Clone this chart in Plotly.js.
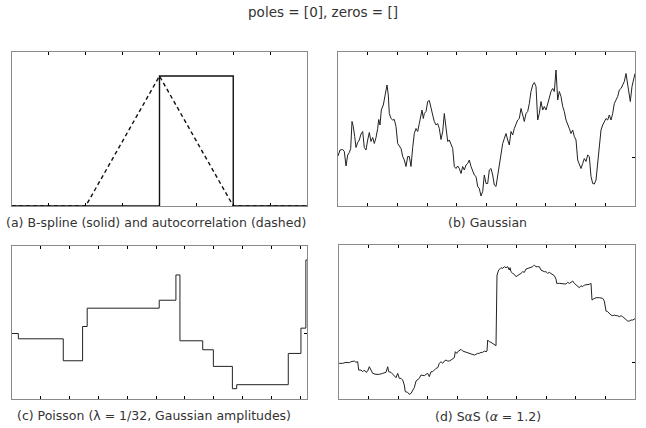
<!DOCTYPE html>
<html>
<head>
<meta charset="utf-8">
<script src="https://cdn.plot.ly/plotly-3.0.1.min.js"></script>
<style>html,body{margin:0;padding:0;background:#fff;}#chart{width:646px;height:428px;}</style>
</head>
<body>
<div id="chart"></div>
<script>
// (a) B-spline and autocorrelation
var aBoxX = [-2, 0, 0, 1, 1, 2];
var aBoxY = [0, 0, 1, 1, 0, 0];
var aTriX = [-2, -1, 0, 1, 2];
var aTriY = [0, 0, 1, 0, 0];

// (b) Gaussian
var bT = [0,2,4.7,6.3,8,9.7,11.3,12.7,14,15.3,16.7,18,19.7,21.3,23,24.7,26.3,28,29.7,31.3,33,34.7,36.3,38,39.7,40.7,42,43.3,45.3,47,49,50.3,51.3,53,54.7,56.3,58,59.7,61.3,63,64.7,66.3,68,69.7,71.3,73,74.7,76.3,78,79.7,81.3,83,84,85.3,86.3,88,89.7,91.3,93,94.7,96.3,98,99.7,101.3,103,104.7,106.3,108,109.7,111.3,113,114.7,116.3,118,119.7,121.3,123,124.7,126.3,128,129.7,131.3,133,134.7,136.3,138,139.7,141.3,143,144.7,146.3,148,
149.7,151.3,153,154.7,156.3,158,159.7,161.3,163,164.7,166.3,168,169.7,171.3,173,174.7,176.3,178,179.7,181.3,183,184.7,186.3,188,189.7,191.3,193,194.7,196.3,198,199.7,201.3,203,204.7,206.3,208,209.7,211.3,213,214.7,216.3,218,219.7,221.3,223,224.7,226.3,228,229.7,231.3,233,234.7,236.3,238,239.7,241.3,243,244.7,246.3,248,249.7,251.3,253,254.7,256.3,258,259.7,261.3,263,264.7,266.3,268,269.7,271.3,273,274.7,276.3,278,279.7,281.3,283,284.7,286.3,288,289.7,291.3,292.3,294,296.3,297];
var bV = [0.02,0.14,0.15,0.11,-0.18,0.04,0.09,0.17,0.71,0.61,0.41,0.19,0.29,0.34,0.46,0.51,0.19,0.14,0.34,0.49,0.31,0.39,0.27,0.39,0.57,0.75,0.64,0.94,1.04,1.27,1.44,1.24,0.87,0.77,0.74,0.75,0.61,0.27,0.21,0.17,0.01,-0.06,-0.19,0.01,0.01,-0.19,0.19,0.47,0.57,0.51,0.67,0.81,0.94,0.77,0.87,0.91,1.11,1.13,1.01,0.84,0.71,0.64,0.67,0.57,0.35,0.51,0.87,0.64,0.31,0.34,0.27,0.17,-0.19,-0.23,-0.18,-0.23,-0.33,-0.19,-0.26,-0.16,-0.13,-0.06,-0.19,-0.26,-0.36,-0.39,-0.59,-0.63,-0.78,-0.69,-0.36,-0.53,
-0.53,-0.26,-0.23,-0.36,-0.56,-0.59,-0.36,-0.19,0.07,0.27,0.37,0.47,0.34,0.24,0.51,0.44,0.57,0.64,0.74,0.77,0.97,0.84,0.71,0.87,0.91,1.07,1.31,1.44,1.49,1.41,0.74,0.87,1.11,0.94,1.01,0.94,1.07,1.21,1.31,1.37,1.31,1.74,1.14,1.31,1.21,1.01,0.91,0.74,0.67,0.57,0.47,0.54,0.41,0.34,-0.06,-0.16,-0.23,-0.13,-0.03,-0.09,0.04,0.01,-0.39,-0.53,-0.54,-0.46,-0.06,0.27,0.54,0.64,0.71,0.77,0.74,0.84,0.74,0.87,1.07,1.14,1.21,1.34,1.37,1.44,1.51,1.67,1.47,1.24,1.11,1.41,1.61,1.67];

// (c) Poisson (piecewise constant)
var cT = [0, 22, 178, 245, 261, 511, 569, 583, 662, 699, 765, 780, 959, 1003, 1020, 1024];
var cV = [0.01, -0.15, -0.81, 0.22, 0.77, 1.01, 1.77, -0.21, -0.48, -0.98, -1.65, -1.53, -0.59, 0.17, 2.22, 2.22];

// (d) SaS
var dT = [0,0.3,3.7,7,10.3,12,15.3,17,18.7,19.7,22,23.7,25.3,27,28.7,30.3,32,33.7,37,40.3,43.7,47,48.7,49.7,52,55.3,57,58.7,60.3,62,63.7,65.3,66.3,68.7,70.3,72,73.7,75.3,77,78.7,80.3,82,83.7,85.3,87,88.7,90.3,92,93.7,95.3,97,98.7,100.3,102,103.7,105.3,107,108.7,110.3,112,113.7,115.3,116.3,117.7,118.7,120.3,122,123.7,125.3,127,128.7,130.3,132,133.7,135.3,137,138.7,140.3,142,143.7,145.3,147,148,
148.7,150.3,152,153.7,155.3,157,158,159.7,162,163.7,165.3,167,168.7,170.3,171,172,173.7,175.3,177,178.7,180.3,182,183.7,185.3,187,188.7,190.3,192,193.7,195.3,197,198.7,200.3,202,203.7,205.3,207,208.7,210.3,212,213.7,215.3,217,217.7,220.3,223.7,227,228.7,230.3,232,233.7,235.3,237,238.7,240.3,242,243.7,245.3,247,248.7,250.3,252,253,254.3,257,260.3,263.7,265.3,267,268.7,270.3,272,273.7,275.3,277,278.7,280.3,282,283.7,285.3,287,288.7,290.3,292,293.7,294.7,296];
var dV = [-0.01,-0.013,-0.013,0.007,0,0.02,0.033,0.007,0.02,-0.147,-0.147,-0.18,-0.147,-0.193,-0.167,-0.08,-0.147,-0.213,-0.233,-0.233,-0.213,-0.193,-0.08,-0.18,-0.193,-0.28,-0.3,-0.213,-0.313,-0.313,-0.347,-0.447,-0.58,-0.593,-0.633,-0.613,-0.547,-0.5,-0.367,-0.347,-0.313,-0.247,-0.247,-0.26,-0.233,-0.213,-0.28,-0.18,-0.18,-0.147,-0.113,-0.1,-0.013,0.02,-0.013,0.033,0.053,0.033,0.033,0.053,0.073,0.1,0.22,0.187,0.22,0.253,0.267,0.233,0.22,0.207,0.207,0.187,0.167,0.153,0.153,0.167,0.187,0.187,0.207,0.207,0.233,0.22,0.233,
0.453,0.42,0.407,0.387,0.367,0.34,1.753,1.853,1.9,1.887,1.92,1.9,1.92,1.853,1.9,1.82,1.787,1.767,1.72,1.74,1.767,1.787,1.82,1.807,1.873,1.887,1.9,1.92,1.92,1.953,1.92,1.92,1.92,1.853,1.833,1.82,1.82,1.787,1.807,1.787,1.753,1.74,1.673,1.587,1.587,1.587,1.573,1.607,1.587,1.607,1.633,1.587,1.553,1.54,1.5,1.54,1.52,1.553,1.553,1.567,1.567,1.587,1.253,1.273,1.3,1.3,1.287,1.233,1.033,1.02,0.987,0.953,0.94,0.953,0.94,0.94,0.92,0.94,0.92,0.887,0.873,0.833,0.833,0.853,0.853,0.873,0.88];

var captions = [
  '(a) B-spline (solid) and autocorrelation (dashed)',
  '(b) Gaussian',
  '(c) Poisson (λ = 1/32, Gaussian amplitudes)',
  '(d) SαS (<i>α</i> = 1.2)'
];

var W = 646, H = 428;
function px(a, b) { return [a / W, b / W]; }
function py(top, bot) { return [(H - bot) / H, (H - top) / H]; }

var lineC = '#222';
var traces = [
  {x: aTriX, y: aTriY, xaxis: 'x', yaxis: 'y', mode: 'lines', line: {color: '#111', width: 1.4, dash: '4px,3px'}},
  {x: aBoxX, y: aBoxY, xaxis: 'x', yaxis: 'y', mode: 'lines', line: {color: '#111', width: 1.4}},
  {x: bT, y: bV, xaxis: 'x2', yaxis: 'y2', mode: 'lines', line: {color: lineC, width: 1}},
  {x: cT, y: cV, xaxis: 'x3', yaxis: 'y3', mode: 'lines', line: {color: lineC, width: 1, shape: 'hv'}},
  {x: dT, y: dV, xaxis: 'x4', yaxis: 'y4', mode: 'lines', line: {color: lineC, width: 1}}
];

function xa(dom, range, tick0, dtick, anchor) {
  return {domain: dom, range: range, tick0: tick0, dtick: dtick, tickmode: 'linear', ticks: 'inside', ticklen: 3,
    tickcolor: '#000', tickwidth: 1, showticklabels: false, showgrid: false, zeroline: false,
    showline: true, linecolor: '#8a8a8a', linewidth: 1, mirror: 'ticks', anchor: anchor, fixedrange: true};
}
function ya(dom, range, tv, anchor) {
  return {domain: dom, range: range, tickmode: 'array', tickvals: tv, ticks: tv.length ? 'inside' : '', ticklen: 3,
    tickcolor: '#000', tickwidth: 1, showticklabels: false, showgrid: false, zeroline: false,
    showline: true, linecolor: '#8a8a8a', linewidth: 1, mirror: true, side: 'right', anchor: anchor, fixedrange: true};
}

var capFont = {family: 'DejaVu Sans, sans-serif', size: 12.5, color: '#333'};
var layout = {
  width: W, height: H,
  margin: {l: 0, r: 0, t: 0, b: 0},
  paper_bgcolor: '#fff', plot_bgcolor: '#fff',
  showlegend: false,
  title: {text: 'poles = [0], zeros = []', x: 0.5, xanchor: 'center', y: (H - 12) / H, yanchor: 'middle',
    font: {family: 'DejaVu Sans, sans-serif', size: 13.5, color: '#333'}},
  xaxis: xa(px(12, 307), [-2, 2], -2, 0.5, 'y'),
  yaxis: ya(py(52, 206), [0, 1.185], [], 'x'),
  xaxis2: xa(px(338, 635), [0, 297], 0, 29.7, 'y2'),
  yaxis2: ya(py(52, 206), [-0.98, 2.1], [0], 'x2'),
  xaxis3: xa(px(12, 307), [0, 1024], 0, 100, 'y3'),
  yaxis3: ya(py(246, 399), [-1.96, 2.64], [0], 'x3'),
  xaxis4: xa(px(339, 635), [0, 296], 0, 29.6, 'y4'),
  yaxis4: ya(py(245, 399), [-0.726, 2.354], [0], 'x4'),
  annotations: [
    {text: captions[0], x: 156 / W, y: (H - 222) / H, xref: 'paper', yref: 'paper', xanchor: 'center', yanchor: 'middle', showarrow: false, font: capFont},
    {text: captions[1], x: 487 / W, y: (H - 222) / H, xref: 'paper', yref: 'paper', xanchor: 'center', yanchor: 'middle', showarrow: false, font: capFont},
    {text: captions[2], x: 154 / W, y: (H - 415) / H, xref: 'paper', yref: 'paper', xanchor: 'center', yanchor: 'middle', showarrow: false, font: capFont},
    {text: captions[3], x: 488 / W, y: (H - 416) / H, xref: 'paper', yref: 'paper', xanchor: 'center', yanchor: 'middle', showarrow: false, font: capFont}
  ]
};

Plotly.newPlot('chart', traces, layout, {staticPlot: true, displayModeBar: false});
</script>
</body>
</html>
